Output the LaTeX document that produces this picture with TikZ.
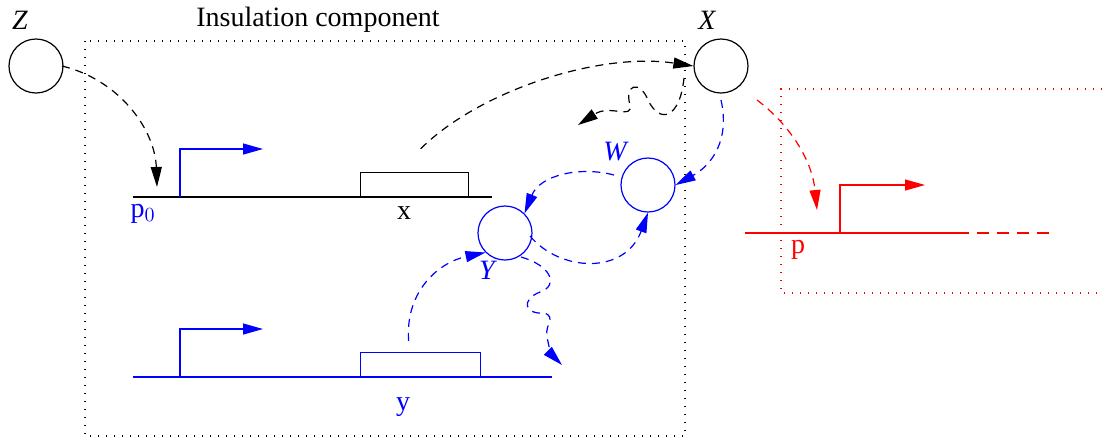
\documentclass[tikz,border=0pt]{standalone}
\usepackage{fontspec}
\setmainfont{Liberation Serif}
\usetikzlibrary{arrows.meta,positioning}
\definecolor{GeneBlue}{HTML}{0000FF}
\definecolor{GeneRed}{HTML}{FF0000}

\begin{document}
\begin{tikzpicture}[x=0.5pt,y=-0.5pt,line width=0.6pt,
    species/.style={draw,circle,minimum size=27pt,inner sep=0pt},
    genebox/.style={draw,rectangle,inner sep=0pt},
    lbl/.style={font=\fontsize{14}{16}\selectfont},
    ilbl/.style={font=\fontsize{14}{16}\selectfont\itshape},
    tip/.style={-{Triangle[length=10pt,width=5.5pt]}},
    reg/.style={tip,dash pattern=on 4pt off 3pt},
    promoter/.style={-{Triangle[length=10pt,width=5.5pt]}},
    region/.style={dash pattern=on 0.7pt off 3.3pt}]
  \useasboundingbox (0,0) rectangle (1102,441);

  % insulation component
  \draw[region] (85,41) rectangle (685,436);
  \node[lbl] (title) at (318,20) {Insulation component};

  % downstream region
  \draw[region,GeneRed] (1110,89) -- (781,89) -- (781,293) -- (1110,293);

  % species
  \node[species] (Z) at (36,66) {};
  \node[ilbl] at (20,20) {Z};
  \node[species] (X) at (721,66) {};
  \node[ilbl] at (707,20) {X};
  \node[species,GeneBlue] (W) at (648,185) {};
  \node[ilbl,GeneBlue] at (615,152) {W};
  \node[species,GeneBlue] (Y) at (505,233) {};
  \node[ilbl,GeneBlue] at (487,270) {Y};

  % gene x
  \draw (133,197) -- (492,197);
  \draw[GeneBlue,promoter] (180,197) -- (180,149) -- (263,149);
  \node[genebox,minimum width=54pt,minimum height=12pt,anchor=south west] (xgene) at (360,197) {};
  \node[lbl] at (404,213) {x};
  \node[lbl,GeneBlue] at (143,214) {p$_0$};

  % gene y
  \draw[GeneBlue] (133,377) -- (552,377);
  \draw[GeneBlue,promoter] (180,377) -- (180,329) -- (263,329);
  \node[genebox,GeneBlue,minimum width=60pt,minimum height=12pt,anchor=south west] (ygene) at (360,377) {};
  \node[lbl,GeneBlue] at (403,407) {y};

  % gene p
  \draw[GeneRed] (745,233) -- (957,233);
  \draw[GeneRed,dash pattern=on 6pt off 4pt] (957,233) -- (1055,233);
  \draw[GeneRed,promoter] (840,233) -- (840,185) -- (925,185);
  \node[lbl,GeneRed] at (798,250) {p};

  % regulation
  \coordinate (p0site) at (157,187);
  \coordinate (psite) at (817,210);
  \coordinate (xdecay) at (578,125);
  \coordinate (ydecay) at (562,365);
  \draw[reg] (62,66) .. controls (120,80) and (155,130) .. (p0site);
  \draw[reg] (xgene.north) ++(6,-23) .. controls (480,90) and (600,52) .. (X.west);
  \draw[reg] (684,78) .. controls (680,118) and (660,125) .. (648,100)
    .. controls (640,80) and (624,84) .. (630,105)
    .. controls (633,120) and (610,104) .. (xdecay);
  \draw[reg,GeneBlue] (721,100) .. controls (730,140) and (712,165) .. (W.east);
  \draw[reg,GeneBlue] (614,175) .. controls (580,166) and (540,175) .. (Y.north east);
  \draw[reg,GeneBlue] (530,236) .. controls (560,272) and (625,275) .. (W.south);
  \draw[reg,GeneBlue] (ygene.north) ++(-12,-11) .. controls (405,290) and (440,262) .. (Y.south west);
  \draw[reg,GeneBlue] (521,257) .. controls (550,265) and (560,285) .. (540,292)
    .. controls (520,300) and (525,315) .. (545,313)
    .. controls (556,318) and (545,325) .. (547,335)
    .. controls (548,347) and (553,356) .. (ydecay);
  \draw[reg,GeneRed] (757,100) .. controls (790,125) and (812,160) .. (psite);
\end{tikzpicture}
\end{document}
